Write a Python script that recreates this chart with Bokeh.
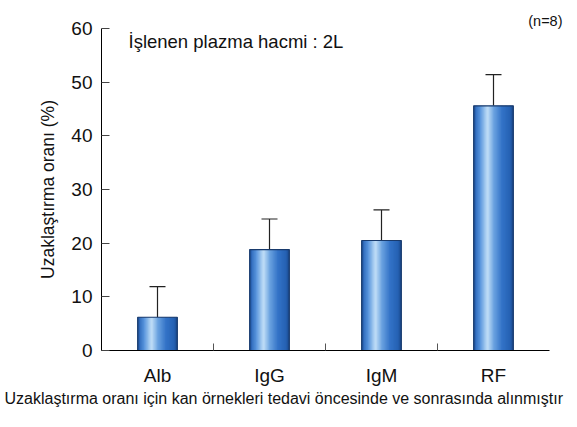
import numpy as np
from bokeh.plotting import figure
from bokeh.models import ColumnDataSource, Whisker, TeeHead, Label, FixedTicker, Range1d, Title
from bokeh.embed import file_html
from bokeh.resources import INLINE

# ---- data ----
categories = ["Alb", "IgG", "IgM", "RF"]
means = [6.2, 18.8, 20.5, 45.6]
errors = [5.7, 5.7, 5.7, 5.8]
y_ticks = [0, 10, 20, 30, 40, 50, 60]
title_text = "İşlenen plazma hacmi : 2L"
n_text = "(n=8)"
y_label = "Uzaklaştırma oranı (%)"
caption = "Uzaklaştırma oranı için kan örnekleri tedavi öncesinde ve sonrasında alınmıştır"

FONT = "Liberation Sans"

xpos = np.arange(len(categories)) + 0.5
means_a = np.array(means)
errs_a = np.array(errors)

p = figure(width=577, height=427,
           x_range=Range1d(0, len(categories)), y_range=Range1d(0, 60),
           output_backend="svg", toolbar_location=None,
           min_border_left=101, min_border_right=28,
           min_border_top=28, min_border_bottom=77)
p.outline_line_color = None
p.xgrid.visible = False
p.ygrid.visible = False
p.background_fill_color = "white"
p.border_fill_color = "white"

# ---- gradient bars (vertical strips) ----
W = 0.353
stops_pos = [0.0, 0.06, 0.18, 0.36, 0.52, 0.72, 0.94, 1.0]
stops_col = [(0x1c, 0x4a, 0x8c), (0x30, 0x6c, 0xbe), (0x5c, 0x98, 0xde),
             (0xc2, 0xdf, 0xf7), (0x6a, 0xa2, 0xe0), (0x34, 0x74, 0xc8),
             (0x24, 0x60, 0xb2), (0x1a, 0x46, 0x88)]
N = 30
sx, st, sc = [], [], []
for k in range(N):
    f = (k + 0.5) / N
    rgb = [int(round(np.interp(f, stops_pos, [c[i] for c in stops_col]))) for i in range(3)]
    col = "#%02x%02x%02x" % tuple(rgb)
    off = -W / 2 + (k + 0.5) * W / N
    for xi, m in zip(xpos, means_a):
        sx.append(xi + off)
        st.append(m)
        sc.append(col)
p.vbar(x=sx, top=st, width=W / N * 1.6, fill_color=sc, line_color=None)
p.vbar(x=xpos, top=means_a, width=W, fill_color=None,
       line_color="#183a6c", line_width=1.2)

# ---- error bars ----
esrc = ColumnDataSource(dict(base=xpos, lower=means_a, upper=means_a + errs_a))
p.add_layout(Whisker(source=esrc, base="base", lower="lower", upper="upper",
                     line_color="#222222", line_width=1.2,
                     upper_head=TeeHead(size=16, line_color="#222222", line_width=1.2),
                     lower_head=None))

# ---- axes ----
p.xaxis.ticker = FixedTicker(ticks=list(xpos), minor_ticks=list(range(1, len(categories))))
p.xaxis.major_label_overrides = {float(x): c for x, c in zip(xpos, categories)}
p.xaxis.major_tick_line_color = None
p.xaxis.minor_tick_in = 7
p.xaxis.minor_tick_out = 0
p.xaxis.minor_tick_line_color = "#555555"
p.xaxis.axis_line_color = "black"
p.xaxis.major_label_text_font = FONT
p.xaxis.major_label_text_font_size = "19px"
p.xaxis.major_label_text_color = "#111111"
p.xaxis.major_label_standoff = 8

p.yaxis.ticker = FixedTicker(ticks=y_ticks, minor_ticks=[])
p.yaxis.major_tick_in = 8
p.yaxis.major_tick_out = 0
p.yaxis.major_tick_line_color = "#444444"
p.yaxis.minor_tick_line_color = None
p.yaxis.axis_line_color = "black"
p.yaxis.major_label_text_font = FONT
p.yaxis.major_label_text_font_size = "19px"
p.yaxis.major_label_text_color = "#111111"
p.yaxis.major_label_standoff = 9
p.yaxis.axis_label = y_label
p.yaxis.axis_label_text_font = FONT
p.yaxis.axis_label_text_font_size = "17.5px"
p.yaxis.axis_label_text_font_style = "normal"
p.yaxis.axis_label_text_color = "#111111"
p.yaxis.axis_label_standoff = 10

# ---- texts ----
p.add_layout(Label(x=0.241, y=57.5, text=title_text, text_font=FONT,
                   text_font_size="18.5px", text_baseline="middle", text_color="#111111"))
p.add_layout(Title(text=n_text, align="right", offset=-13, standoff=0,
                   text_font=FONT, text_font_size="14.5px", text_font_style="normal",
                   text_color="#111111"), "above")
p.add_layout(Title(text=caption, align="left", offset=-97, standoff=-1,
                   text_font=FONT, text_font_size="16px", text_font_style="normal",
                   text_color="#111111"), "below")

open("out.html", "w").write(file_html(p, INLINE))
